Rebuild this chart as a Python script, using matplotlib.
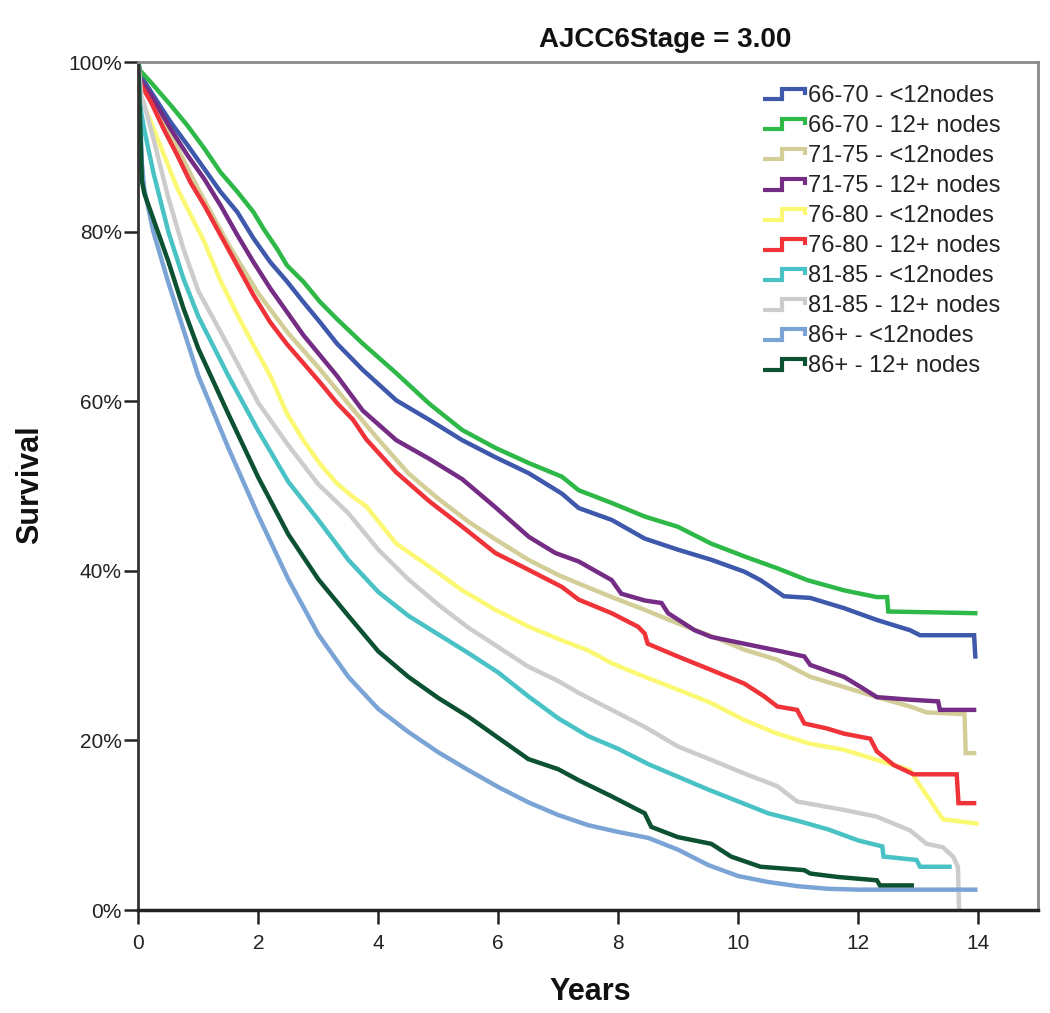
import matplotlib
matplotlib.use("Agg")
import matplotlib.pyplot as plt
from matplotlib.lines import Line2D
from matplotlib.legend_handler import HandlerBase
from matplotlib.ticker import FuncFormatter

plt.rcParams['font.family'] = ['Liberation Sans', 'DejaVu Sans']

labels = ["66-70 - <12nodes", "66-70 - 12+ nodes", "71-75 - <12nodes", "71-75 - 12+ nodes",
          "76-80 - <12nodes", "76-80 - 12+ nodes", "81-85 - <12nodes", "81-85 - 12+ nodes",
          "86+ - <12nodes", "86+ - 12+ nodes"]
colors = ["#3E58AC", "#2EB848", "#D3CE97", "#752C85", "#FBF873",
          "#EF3338", "#48C2C5", "#CCCCCC", "#7BA4D6", "#0B5132"]

t_blue = [0, 0.03, 0.21, 0.54, 0.82, 1.10, 1.37, 1.65, 1.92, 2.20, 2.48, 2.75, 3.03, 3.31, 3.74, 4.30, 4.85, 5.40, 5.95, 6.51, 7.06, 7.34, 7.89, 8.44, 8.99, 9.55, 10.10, 10.37, 10.76, 11.20, 11.76, 12.31, 12.86, 13.03, 13.93, 13.95]
s_blue = [1.0, 0.985, 0.965, 0.929, 0.902, 0.874, 0.847, 0.823, 0.792, 0.764, 0.741, 0.717, 0.693, 0.668, 0.637, 0.601, 0.578, 0.554, 0.534, 0.515, 0.491, 0.474, 0.460, 0.438, 0.425, 0.413, 0.399, 0.389, 0.370, 0.368, 0.356, 0.342, 0.330, 0.324, 0.324, 0.299]

t_green = [0, 0.03, 0.21, 0.54, 0.82, 1.10, 1.37, 1.65, 1.92, 2.09, 2.31, 2.48, 2.75, 3.03, 3.31, 3.74, 4.30, 4.85, 5.40, 5.95, 6.51, 7.06, 7.34, 7.89, 8.44, 8.99, 9.55, 10.10, 10.65, 11.15, 11.76, 12.31, 12.48, 12.50, 13.95]
s_green = [1.0, 0.99, 0.976, 0.949, 0.925, 0.898, 0.870, 0.847, 0.823, 0.803, 0.780, 0.760, 0.741, 0.717, 0.697, 0.668, 0.633, 0.597, 0.566, 0.545, 0.527, 0.511, 0.495, 0.480, 0.464, 0.452, 0.432, 0.417, 0.403, 0.389, 0.377, 0.369, 0.369, 0.352, 0.350]

t_tan = [0, 0.03, 0.25, 0.5, 1.0, 1.5, 2.0, 2.5, 3.0, 3.5, 4.0, 4.5, 5.0, 5.5, 6.0, 6.5, 7.0, 7.34, 7.89, 8.44, 8.99, 9.55, 10.10, 10.65, 11.20, 11.76, 12.31, 12.86, 13.14, 13.77, 13.79, 13.93]
s_tan = [1.0, 0.98, 0.955, 0.92, 0.85, 0.785, 0.727, 0.68, 0.64, 0.597, 0.555, 0.515, 0.485, 0.458, 0.435, 0.413, 0.395, 0.385, 0.369, 0.354, 0.338, 0.323, 0.307, 0.295, 0.275, 0.263, 0.251, 0.240, 0.233, 0.231, 0.185, 0.185]

t_purple = [0, 0.03, 0.21, 0.54, 0.82, 1.10, 1.37, 1.65, 1.92, 2.20, 2.48, 2.75, 3.03, 3.31, 3.74, 4.30, 4.85, 5.40, 5.95, 6.51, 6.95, 7.34, 7.89, 8.05, 8.44, 8.72, 8.83, 9.27, 9.55, 10.10, 10.65, 11.10, 11.20, 11.76, 12.04, 12.31, 12.86, 13.33, 13.36, 13.93]
s_purple = [1.0, 0.98, 0.961, 0.921, 0.890, 0.862, 0.831, 0.796, 0.764, 0.733, 0.705, 0.678, 0.654, 0.630, 0.589, 0.554, 0.532, 0.508, 0.475, 0.440, 0.421, 0.411, 0.389, 0.373, 0.365, 0.362, 0.350, 0.330, 0.322, 0.314, 0.306, 0.299, 0.289, 0.275, 0.263, 0.251, 0.248, 0.246, 0.236, 0.236]

t_yellow = [0, 0.03, 0.21, 0.43, 0.65, 0.87, 1.10, 1.37, 1.65, 1.92, 2.20, 2.48, 2.75, 3.03, 3.31, 3.58, 3.80, 4.30, 4.85, 5.40, 5.95, 6.51, 7.06, 7.50, 7.89, 8.44, 8.99, 9.55, 10.10, 10.65, 11.20, 11.76, 12.31, 12.86, 12.97, 13.19, 13.41, 13.97]
s_yellow = [1.0, 0.96, 0.929, 0.890, 0.851, 0.820, 0.788, 0.742, 0.702, 0.666, 0.630, 0.585, 0.554, 0.526, 0.503, 0.487, 0.476, 0.432, 0.405, 0.377, 0.354, 0.334, 0.318, 0.306, 0.291, 0.275, 0.260, 0.244, 0.224, 0.208, 0.196, 0.189, 0.177, 0.165, 0.153, 0.130, 0.107, 0.102]

t_red = [0, 0.03, 0.21, 0.43, 0.65, 0.87, 1.10, 1.37, 1.65, 1.92, 2.20, 2.48, 2.75, 3.03, 3.31, 3.58, 3.80, 4.30, 4.85, 5.40, 5.95, 6.51, 7.06, 7.34, 7.89, 8.33, 8.44, 8.49, 8.99, 9.55, 10.10, 10.43, 10.65, 10.98, 11.10, 11.48, 11.76, 12.20, 12.31, 12.59, 12.92, 13.64, 13.67, 13.93]
s_red = [1.0, 0.975, 0.953, 0.920, 0.890, 0.858, 0.831, 0.796, 0.760, 0.725, 0.693, 0.667, 0.645, 0.622, 0.598, 0.578, 0.555, 0.516, 0.482, 0.452, 0.421, 0.401, 0.381, 0.366, 0.350, 0.334, 0.326, 0.314, 0.299, 0.283, 0.267, 0.252, 0.240, 0.236, 0.220, 0.214, 0.208, 0.202, 0.187, 0.171, 0.160, 0.160, 0.126, 0.126]

t_teal = [0, 0.05, 0.1, 0.25, 0.5, 0.75, 1.0, 1.5, 2.0, 2.5, 3.0, 3.5, 4.0, 4.5, 5.0, 5.5, 6.0, 6.5, 7.0, 7.5, 8.0, 8.5, 9.0, 9.5, 10.0, 10.5, 11.0, 11.5, 12.0, 12.40, 12.42, 12.97, 13.03, 13.52]
s_teal = [1.0, 0.94, 0.92, 0.87, 0.80, 0.745, 0.70, 0.63, 0.565, 0.505, 0.46, 0.413, 0.375, 0.347, 0.325, 0.303, 0.28, 0.252, 0.226, 0.205, 0.19, 0.172, 0.157, 0.142, 0.128, 0.114, 0.105, 0.095, 0.082, 0.075, 0.063, 0.059, 0.051, 0.051]

t_gray = [0, 0.05, 0.1, 0.25, 0.5, 0.75, 1.0, 1.5, 2.0, 2.5, 3.0, 3.5, 4.0, 4.5, 5.0, 5.5, 6.0, 6.5, 7.0, 7.34, 7.89, 8.44, 8.99, 9.55, 10.10, 10.65, 10.98, 11.76, 12.31, 12.86, 13.14, 13.41, 13.58, 13.66, 13.68]
s_gray = [1.0, 0.96, 0.95, 0.91, 0.84, 0.78, 0.73, 0.665, 0.598, 0.548, 0.502, 0.468, 0.425, 0.39, 0.36, 0.333, 0.31, 0.287, 0.27, 0.256, 0.236, 0.216, 0.193, 0.177, 0.161, 0.146, 0.128, 0.118, 0.110, 0.094, 0.078, 0.074, 0.063, 0.051, 0.0]

t_lblue = [0, 0.06, 0.1, 0.25, 0.5, 0.75, 1.0, 1.5, 2.0, 2.5, 3.0, 3.5, 4.0, 4.5, 5.0, 5.5, 6.0, 6.5, 7.0, 7.5, 8.0, 8.5, 9.0, 9.5, 10.0, 10.5, 11.0, 11.5, 12.0, 13.95]
s_lblue = [1.0, 0.88, 0.85, 0.80, 0.74, 0.685, 0.63, 0.545, 0.465, 0.39, 0.325, 0.275, 0.237, 0.21, 0.186, 0.165, 0.145, 0.127, 0.112, 0.100, 0.092, 0.085, 0.071, 0.053, 0.040, 0.033, 0.028, 0.025, 0.024, 0.024]

t_dgreen = [0, 0.06, 0.1, 0.25, 0.5, 0.75, 1.0, 1.5, 2.0, 2.5, 3.0, 3.5, 4.0, 4.5, 5.0, 5.5, 6.0, 6.5, 7.0, 7.34, 7.89, 8.44, 8.55, 8.99, 9.55, 9.88, 10.37, 11.10, 11.20, 11.65, 12.31, 12.36, 12.89]
s_dgreen = [1.0, 0.86, 0.845, 0.815, 0.765, 0.71, 0.662, 0.585, 0.51, 0.443, 0.39, 0.347, 0.305, 0.275, 0.25, 0.228, 0.203, 0.178, 0.166, 0.153, 0.134, 0.114, 0.098, 0.086, 0.078, 0.063, 0.051, 0.047, 0.043, 0.039, 0.035, 0.029, 0.029]

series_t = [t_blue, t_green, t_tan, t_purple, t_yellow, t_red, t_teal, t_gray, t_lblue, t_dgreen]
series_s = [s_blue, s_green, s_tan, s_purple, s_yellow, s_red, s_teal, s_gray, s_lblue, s_dgreen]

x_ticks = [0, 2, 4, 6, 8, 10, 12, 14]
y_ticks = [0, 0.2, 0.4, 0.6, 0.8, 1.0]


class StepHandler(HandlerBase):
    def create_artists(self, legend, orig_handle, xdescent, ydescent, width, height, fontsize, trans):
        x0, y0 = -xdescent, -ydescent
        xs = [x0, x0 + 0.45 * width, x0 + 0.45 * width, x0 + width, x0 + width]
        ys = [y0 + 0.15 * height, y0 + 0.15 * height, y0 + 0.8 * height, y0 + 0.8 * height, y0 + 0.4 * height]
        ln = Line2D(xs, ys, color=orig_handle.get_color(), lw=3, transform=trans,
                    solid_joinstyle='miter', solid_capstyle='butt')
        return [ln]


fig = plt.figure(figsize=(10.5, 10.13), dpi=100)
ax = fig.add_axes([138.3 / 1050, 103 / 1013, 900 / 1050, 848 / 1013])

handles = []
for t, s, c, lab in zip(series_t, series_s, colors, labels):
    ln, = ax.plot(t, s, color=c, lw=3.2, label=lab, solid_joinstyle='miter')
    handles.append(ln)

ax.set_xlim(0, 15)
ax.set_ylim(0, 1.0)
ax.set_xticks(x_ticks)
ax.set_yticks(y_ticks)
ax.yaxis.set_major_formatter(FuncFormatter(lambda v, p: f"{int(round(v * 100))}%"))
ax.tick_params(axis='both', direction='out', length=10, width=1.8, colors='#222222', labelsize=15)
ax.tick_params(axis='x', pad=7)
ax.tick_params(axis='y', pad=2)

for side in ['top', 'right']:
    ax.spines[side].set_color('#8a8a8a')
    ax.spines[side].set_linewidth(2)
ax.spines['left'].set_color('#333333')
ax.spines['left'].set_linewidth(2)
ax.spines['bottom'].set_color('#222222')
ax.spines['bottom'].set_linewidth(2.5)

leg = ax.legend(handles=handles, labels=labels, handler_map={Line2D: StepHandler()},
                loc='upper left', bbox_to_anchor=(0.694, 0.973), frameon=False,
                fontsize=17, handlelength=1.8, handletextpad=0.12, labelspacing=0.34,
                borderpad=0, borderaxespad=0)
for txt in leg.get_texts():
    txt.set_color('#222222')

fig.text(665 / 1050, 1 - 40 / 1013, "AJCC6Stage = 3.00", ha='center', va='center',
         fontsize=20, fontweight='bold', color='#111111')
fig.text(30 / 1050, 1 - 485 / 1013, "Survival", ha='center', va='center', rotation=90,
         fontsize=22, fontweight='bold', color='#111111')
fig.text(590 / 1050, 1 - 992 / 1013, "Years", ha='center', va='center',
         fontsize=22, fontweight='bold', color='#111111')

fig.savefig("out.png", dpi=100, facecolor='white')
